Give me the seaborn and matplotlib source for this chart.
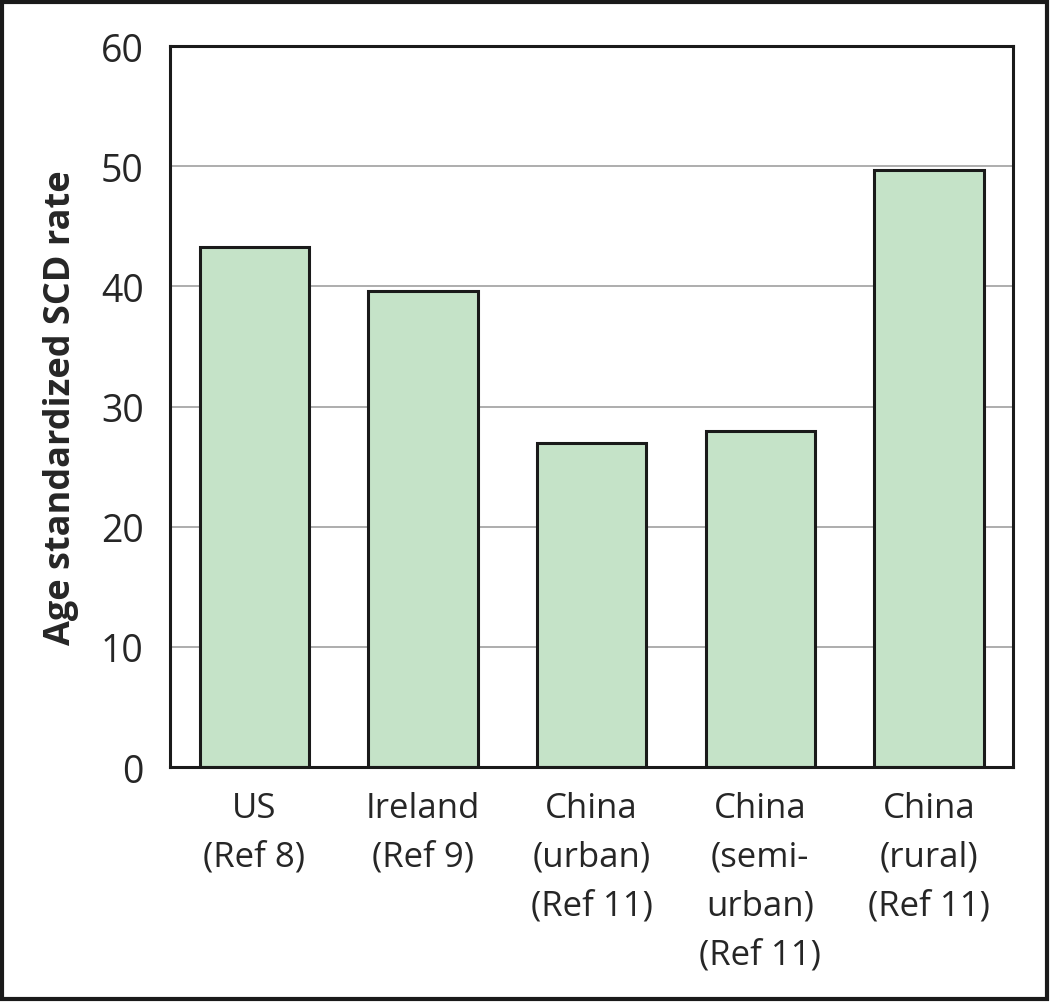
import pandas as pd
import seaborn as sns
import matplotlib.pyplot as plt
from matplotlib.patches import Rectangle

# Datos
categories = ["US\n(Ref 8)", "Ireland\n(Ref 9)", "China\n(urban)\n(Ref 11)",
              "China\n(semi-\nurban)\n(Ref 11)", "China\n(rural)\n(Ref 11)"]
scd_rate = [43.3, 39.6, 27.0, 28.0, 49.7]
y_ticks = [0, 10, 20, 30, 40, 50, 60]

df = pd.DataFrame({"region": categories, "rate": scd_rate})

sns.set_style("white")
plt.rcParams['font.family'] = ['Open Sans', 'DejaVu Sans']

fig = plt.figure(figsize=(10.5, 10.04), dpi=100)
ax = fig.add_axes([0.162, 0.235, 0.803, 0.718])

ax.yaxis.grid(True, color="#a0a0a0", linewidth=1.2, zorder=0)
ax.set_axisbelow(True)

sns.barplot(data=df, x="region", y="rate", color="#c5e3c8", saturation=1,
            width=0.65, edgecolor="#1a1a1a", linewidth=2.2, ax=ax, zorder=2)

ax.set_ylim(0, 60)
ax.set_yticks(y_ticks)
ax.set_xlim(-0.5, 4.5)
ax.set_xlabel("")
ax.set_ylabel("Age standardized SCD rate", fontsize=26, fontweight="bold", labelpad=16)

for s in ax.spines.values():
    s.set_color("#1a1a1a")
    s.set_linewidth(2.2)

ax.tick_params(axis="y", length=13, width=2.2, color="#1a1a1a", labelsize=27, pad=6)
ax.tick_params(axis="x", length=0, labelsize=25, pad=17)
plt.setp(ax.get_xticklabels(), linespacing=1.58, va="top")

# Marco exterior de la figura
fig.patches.append(Rectangle((0.002, 0.004), 0.995, 0.993, transform=fig.transFigure,
                             fill=False, edgecolor="#1a1a1a", linewidth=3))

fig.savefig("out.png", dpi=100)
